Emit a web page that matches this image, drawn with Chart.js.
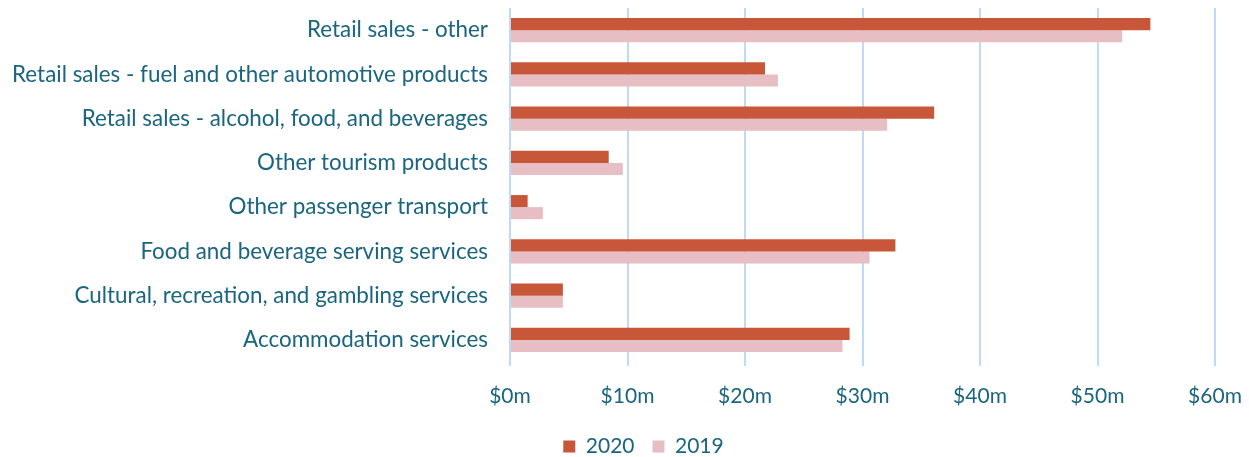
<!DOCTYPE html>
<html>
<head>
<meta charset="utf-8">
<script src="https://cdn.jsdelivr.net/npm/chart.js@4.4.1/dist/chart.umd.min.js"></script>
<style>
  html, body { margin: 0; padding: 0; background: #ffffff; }
  #wrap { width: 1249px; height: 457px; position: relative; }
</style>
</head>
<body>
<div id="wrap"><canvas id="chart"></canvas></div>
<script>
// Tourism spending by product ($ millions)
const categories = [
  "Retail sales - other",
  "Retail sales - fuel and other automotive products",
  "Retail sales - alcohol, food, and beverages",
  "Other tourism products",
  "Other passenger transport",
  "Food and beverage serving services",
  "Cultural, recreation, and gambling services",
  "Accommodation services"
];
const values2020 = [54.5, 21.7, 36.1, 8.4, 1.5, 32.8, 4.5, 28.9];
const values2019 = [52.1, 22.8, 32.1, 9.6, 2.8, 30.6, 4.5, 28.3];
const tickValues = [0, 10, 20, 30, 40, 50, 60];

const TEXT = "#1A6580";
const FONT = "Lato";

// Nudges the legend block so it sits centred under the plot, near the bottom edge
const legendShift = {
  id: "legendShift",
  afterLayout(chart) {
    const lg = chart.legend;
    if (!lg) return;
    const dx = 36, dy = 10;
    lg.left += dx; lg.right += dx;
    lg.top += dy; lg.bottom += dy;
  }
};

new Chart(document.getElementById("chart"), {
  type: "bar",
  data: {
    labels: categories,
    datasets: [
      { label: "2020", data: values2020, backgroundColor: "#C8573A",
        categoryPercentage: 0.545, barPercentage: 1.0 },
      { label: "2019", data: values2019, backgroundColor: "#E6BEC3",
        categoryPercentage: 0.545, barPercentage: 1.0 }
    ]
  },
  plugins: [legendShift],
  options: {
    indexAxis: "y",
    responsive: true,
    maintainAspectRatio: false,
    animation: false,
    layout: { padding: { left: 0, right: 34, top: 8, bottom: 0 } },
    plugins: {
      legend: {
        position: "bottom",
        labels: {
          color: TEXT,
          font: { family: FONT, size: 21 },
          boxWidth: 12, boxHeight: 12,
          padding: 18
        }
      },
      tooltip: { enabled: false }
    },
    scales: {
      x: {
        min: 0, max: 60,
        afterBuildTicks: (s) => { s.ticks = tickValues.map(v => ({ value: v })); },
        afterFit: (s) => { s.height = 46; s.paddingLeft = 0; s.paddingRight = 0; },
        grid: { color: "#BDDBF6", lineWidth: 2, drawTicks: true, tickLength: 4 },
        border: { display: false },
        ticks: {
          color: TEXT,
          font: { family: FONT, size: 21 },
          padding: 18,
          callback: (v) => "$" + v + "m"
        }
      },
      y: {
        afterFit: (s) => { s.width = 510; s.paddingTop = 0; s.paddingBottom = 0; },
        grid: { display: false, drawTicks: false },
        border: { display: false },
        ticks: {
          color: TEXT,
          font: { family: FONT, size: 22.4 },
          padding: 22
        }
      }
    }
  }
});
</script>
</body>
</html>
